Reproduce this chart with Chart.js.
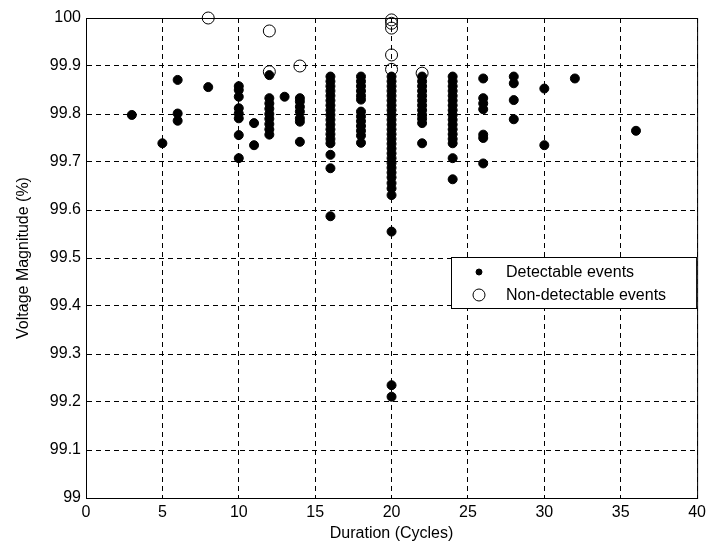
<!DOCTYPE html>
<html>
<head>
<meta charset="utf-8">
<script src="https://cdn.jsdelivr.net/npm/chart.js@4/dist/chart.umd.min.js"></script>
<style>
  html, body { margin: 0; padding: 0; background: #fff; }
  #wrap { position: relative; width: 711px; height: 549px; }
</style>
</head>
<body>
<div id="wrap"><canvas id="eventsChart" width="711" height="549"></canvas></div>
<script>
// durations (cycles) that have detectable events, and the voltages seen at each one
const detectableDurations = [3, 5, 6, 8, 10, 11, 12, 13, 14, 16, 18, 20, 22, 24, 26, 28, 30, 32, 36];
const detectableVoltages = [
    [99.798],
    [99.739],
    [99.871, 99.801, 99.786],
    [99.856],
    [99.858, 99.850, 99.836, 99.812, 99.801, 99.791, 99.756, 99.708],
    [99.781, 99.735],
    [99.881, 99.833, 99.822, 99.811, 99.800, 99.790, 99.779, 99.768, 99.757],
    [99.836],
    [99.833, 99.826, 99.815, 99.805, 99.791, 99.784, 99.742],
    [99.878, 99.868, 99.858, 99.848, 99.838, 99.828, 99.818, 99.808, 99.798, 99.788, 99.778, 99.768, 99.758, 99.748, 99.739, 99.715, 99.687, 99.587],
    [99.878, 99.868, 99.858, 99.848, 99.838, 99.830, 99.805, 99.795, 99.785, 99.775, 99.765, 99.755, 99.740],
    [99.878, 99.868, 99.858, 99.848, 99.838, 99.828, 99.818, 99.808, 99.798, 99.788, 99.778, 99.768, 99.758, 99.748, 99.738, 99.728, 99.718, 99.708, 99.698, 99.688, 99.678, 99.668, 99.656, 99.645, 99.631, 99.555, 99.235, 99.211],
    [99.878, 99.868, 99.858, 99.848, 99.838, 99.828, 99.818, 99.808, 99.798, 99.790, 99.781, 99.739],
    [99.878, 99.868, 99.858, 99.848, 99.838, 99.828, 99.818, 99.808, 99.798, 99.788, 99.778, 99.768, 99.758, 99.748, 99.739, 99.708, 99.664],
    [99.874, 99.833, 99.822, 99.810, 99.757, 99.750, 99.697],
    [99.878, 99.864, 99.829, 99.789],
    [99.853, 99.735],
    [99.874],
    [99.765]
];

// non-detectable events
const nonDetectableDurations = [8, 12, 12, 14, 20, 20, 20, 20, 20, 22];
const nonDetectableVoltages = [100.0, 99.973, 99.888, 99.900, 99.996, 99.989, 99.979, 99.923, 99.893, 99.885];

const xTicks = [0, 5, 10, 15, 20, 25, 30, 35, 40];
const yTicks = [99, 99.1, 99.2, 99.3, 99.4, 99.5, 99.6, 99.7, 99.8, 99.9, 100];

const FONT = '"Liberation Sans", Arial, Helvetica, sans-serif';

const detectablePoints = [];
detectableDurations.forEach((d, i) => {
    detectableVoltages[i].forEach(v => detectablePoints.push({ x: d, y: v }));
});
const nonDetectablePoints = nonDetectableDurations.map((d, i) => ({ x: d, y: nonDetectableVoltages[i] }));

// black box round the plot, like the matlab axes
const frameBox = {
    id: 'frameBox',
    afterDraw(chart) {
        const { ctx, chartArea: a } = chart;
        ctx.save();
        ctx.strokeStyle = '#000';
        ctx.lineWidth = 1;
        ctx.setLineDash([]);
        ctx.strokeRect(a.left + 0.5, a.top + 0.5, a.right - a.left, a.bottom - a.top);
        ctx.restore();
    }
};

// legend box sitting inside the plot
const insideLegend = {
    id: 'insideLegend',
    afterDraw(chart) {
        const { ctx, chartArea: a } = chart;
        const x0 = 451, y0 = 257, x1 = a.right, y1 = 308;
        ctx.save();
        ctx.fillStyle = '#fff';
        ctx.fillRect(x0, y0, x1 - x0, y1 - y0);
        ctx.strokeStyle = '#000';
        ctx.lineWidth = 1;
        ctx.strokeRect(x0 + 0.5, y0 + 0.5, x1 - x0 - 1, y1 - y0);
        ctx.font = '16px ' + FONT;
        ctx.textBaseline = 'middle';
        const rows = [272, 295];
        chart.data.datasets.forEach((ds, i) => {
            ctx.beginPath();
            ctx.arc(479, rows[i], i === 0 ? 3 : 6, 0, Math.PI * 2);
            ctx.fillStyle = '#000';
            if (i === 0) ctx.fill();
            ctx.strokeStyle = '#000';
            ctx.stroke();
            ctx.fillText(ds.label, 506, rows[i] + 1);
        });
        ctx.restore();
    }
};

new Chart(document.getElementById('eventsChart').getContext('2d'), {
    type: 'scatter',
    data: {
        datasets: [{
            label: 'Detectable events',
            data: detectablePoints,
            pointStyle: 'circle',
            pointRadius: 4.5,
            pointHoverRadius: 4.5,
            pointBackgroundColor: '#000',
            pointBorderColor: '#000',
            pointBorderWidth: 1
        }, {
            label: 'Non-detectable events',
            data: nonDetectablePoints,
            pointStyle: 'circle',
            pointRadius: 6,
            pointHoverRadius: 6,
            pointBackgroundColor: 'rgba(0,0,0,0)',
            pointBorderColor: '#000',
            pointBorderWidth: 1
        }]
    },
    options: {
        responsive: false,
        animation: false,
        clip: false,
        layout: { padding: { left: 14, right: 11, top: 18, bottom: 6 } },
        plugins: {
            legend: { display: false },
            tooltip: { enabled: false }
        },
        scales: {
            x: {
                type: 'linear',
                min: 0,
                max: 40,
                afterBuildTicks: axis => { axis.ticks = xTicks.map(v => ({ value: v })); },
                afterFit: axis => { axis.height = 45; },
                grid: { color: '#000', lineWidth: 1, tickLength: 0, drawTicks: false },
                border: { display: true, color: '#000', width: 1, dash: [5, 4] },
                ticks: { color: '#000', padding: 5, font: { family: FONT, size: 16 }, maxRotation: 0 },
                title: { display: true, text: 'Duration (Cycles)', color: '#000', padding: { top: 0, bottom: 0 }, font: { family: FONT, size: 16 } }
            },
            y: {
                type: 'linear',
                min: 99,
                max: 100,
                afterBuildTicks: axis => { axis.ticks = yTicks.map(v => ({ value: v })); },
                afterFit: axis => { axis.width = 72; },
                grid: { color: '#000', lineWidth: 1, tickLength: 0, drawTicks: false },
                border: { display: true, color: '#000', width: 1, dash: [5, 4] },
                ticks: { color: '#000', padding: 5, font: { family: FONT, size: 16 }, callback: v => String(Math.round(v * 10) / 10) },
                title: { display: true, text: 'Voltage Magnitude (%)', color: '#000', padding: { top: 0, bottom: 2 }, font: { family: FONT, size: 16 } }
            }
        }
    },
    plugins: [frameBox, insideLegend]
});
</script>
</body>
</html>
